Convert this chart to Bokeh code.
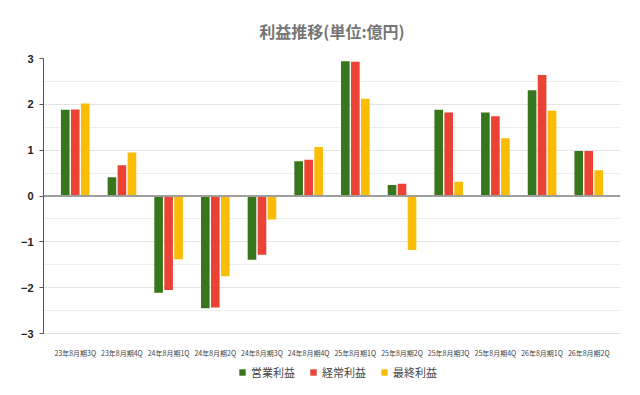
from bokeh.plotting import figure
from bokeh.layouts import column
from bokeh.models import FactorRange, Span, FixedTicker, Legend, LegendItem, ColumnDataSource, Range1d
from bokeh.transform import dodge
from bokeh.embed import file_html
from bokeh.resources import INLINE

categories = ["23年8月期3Q", "23年8月期4Q", "24年8月期1Q", "24年8月期2Q", "24年8月期3Q", "24年8月期4Q",
              "25年8月期1Q", "25年8月期2Q", "25年8月期3Q", "25年8月期4Q", "26年8月期1Q", "26年8月期2Q"]
operating = [1.88, 0.41, -2.11, -2.45, -1.39, 0.76, 2.94, 0.24, 1.88, 1.82, 2.31, 0.98]
ordinary = [1.89, 0.67, -2.05, -2.43, -1.28, 0.79, 2.93, 0.27, 1.82, 1.74, 2.64, 0.98]
net = [2.02, 0.95, -1.38, -1.75, -0.51, 1.07, 2.12, -1.18, 0.31, 1.26, 1.86, 0.56]
series_names = ["営業利益", "経常利益", "最終利益"]
colors = ["#38761d", "#ea4335", "#fbbc04"]
y_ticks = [-3, -2, -1, 0, 1, 2, 3]

src = ColumnDataSource(dict(cat=categories, a=operating, b=ordinary, c=net))

p = figure(width=632, height=360, output_backend="svg", toolbar_location=None,
           x_range=FactorRange(factors=categories, range_padding=0.03),
           y_range=(-3, 3),
           min_border_left=43, min_border_right=12, min_border_top=57, min_border_bottom=19,
           title="利益推移(単位:億円)")
p.outline_line_color = None
p.background_fill_color = "white"

p.title.align = "center"
p.title.text_font = "Noto Sans CJK JP"
p.title.text_font_size = "16px"
p.title.text_font_style = "bold"
p.title.text_color = "#757575"
p.title.standoff = 32

renderers = []
for field, off, col in zip(["a", "b", "c"], [-0.214, 0.0, 0.214], colors):
    r = p.vbar(x=dodge("cat", off, range=p.x_range), top=field, bottom=0, width=0.185,
               source=src, fill_color=col, line_color=None)
    renderers.append(r)

p.add_layout(Span(location=0, dimension="width", line_color="#9e9e9e", line_width=2))

p.yaxis.ticker = FixedTicker(ticks=y_ticks, minor_ticks=[-2.5, -1.5, -0.5, 0.5, 1.5, 2.5])
p.yaxis.axis_line_color = "#555555"
p.yaxis.major_tick_line_color = "#555555"
p.yaxis.major_tick_out = 4
p.yaxis.major_tick_in = 0
p.yaxis.minor_tick_line_color = None
p.yaxis.major_label_text_font = "Liberation Sans"
p.yaxis.major_label_text_font_size = "11px"
p.yaxis.major_label_text_font_style = "bold"
p.yaxis.major_label_text_color = "#222222"
p.yaxis.major_label_standoff = 6

p.xaxis.axis_line_color = "#e0e0e0"
p.xaxis.major_tick_line_color = None
p.xaxis.minor_tick_line_color = None
p.xaxis.major_label_text_font = "Noto Sans CJK JP"
p.xaxis.major_label_text_font_size = "7px"
p.xaxis.major_label_text_color = "#444444"
p.xaxis.major_label_standoff = 8

p.xgrid.grid_line_color = None
p.ygrid.grid_line_color = "#e4e4e4"
p.ygrid.minor_grid_line_color = "#eeeeee"

# legend strip below the chart (swatch glyphs sit outside its visible range)
lg = figure(width=632, height=20, output_backend="svg", toolbar_location=None,
            x_range=Range1d(0, 1), y_range=Range1d(0, 1),
            min_border_left=0, min_border_right=0, min_border_top=0, min_border_bottom=0)
lg.axis.visible = False
lg.grid.visible = False
lg.outline_line_color = None
legend_renderers = [lg.vbar(x=[-5], top=[-5], bottom=[-6], width=0.1, fill_color=c, line_color=None)
                    for c in colors]
legend = Legend(items=[LegendItem(label=n, renderers=[r]) for n, r in zip(series_names, legend_renderers)],
                orientation="horizontal", location=(195, 0),
                label_text_font="Noto Sans CJK JP", label_text_font_size="11px", label_text_color="#444444",
                glyph_width=8, glyph_height=8, label_standoff=5, spacing=14,
                border_line_color=None, background_fill_alpha=0, padding=0, margin=0)
lg.add_layout(legend)

layout = column(p, lg, spacing=0)
open("out.html", "w").write(file_html(layout, INLINE))
